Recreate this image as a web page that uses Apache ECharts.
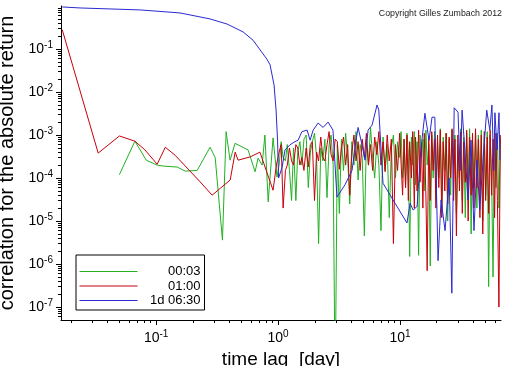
<!DOCTYPE html>
<html><head><meta charset="utf-8">
<script src="https://cdn.jsdelivr.net/npm/echarts@6/dist/echarts.min.js"></script>
<style>html,body{margin:0;padding:0;background:#fff}#c{width:512px;height:366px}</style>
</head><body><div id="c"></div>
<script>
const FONT = '"Liberation Sans", Arial, sans-serif';
const seriesNames = ['00:03', '01:00', '1d 06:30'];
const xMajorTicks = [0.1, 1, 10];
const yMajorTicks = [1e-7, 1e-6, 1e-5, 1e-4, 1e-3, 1e-2, 1e-1];
const xRange = [0.0166, 67.3];
const yRange = [5e-8, 1];

// short lags [day, value]
const greenHead = [[0.050,1.2e-4],[0.067,7.2e-4],[0.083,2.6e-4],[0.102,2e-4],[0.114,1.9e-4],[0.149,1.8e-4],[0.173,1.45e-4],[0.217,1.5e-4],[0.277,5.2e-4],[0.305,3e-4],[0.35,3.6e-6],[0.375,1.2e-3],[0.404,2.6e-4],[0.444,6.4e-4],[0.568,4.5e-4],[0.648,1.4e-4],[0.686,2.9e-4],[0.74,2e-4],[0.78,1e-3],[0.83,2.8e-5],[0.91,8.6e-4],[0.98,1.05e-4]];
const redHead = [[0.017,0.28],[0.0335,3.8e-4],[0.050,9.5e-4],[0.067,7.2e-4],[0.081,4.5e-4],[0.102,2.1e-4],[0.119,5.2e-4],[0.143,3.4e-4],[0.23,8.1e-5],[0.288,4e-5],[0.405,9e-5],[0.445,4e-4],[0.47,2.6e-4],[0.59,3.1e-4],[0.71,4e-4],[0.91,5.2e-5],[0.97,2e-4]];
const blueHead = [[0.017,0.95],[0.0238,0.9],[0.074,0.81],[0.157,0.69],[0.277,0.5],[0.382,0.38],[0.516,0.25],[0.624,0.16],[0.81,0.058],[0.86,0.043],[0.927,0.0146],[0.963,3.8e-3],[0.99,7.6e-4],[1.01,1e-4]];

// long lags (shared lag grid for 00:03 and 01:00)
const lagsNoise = [1.02,1.06,1.10,1.15,1.19,1.24,1.29,1.34,1.40,1.45,1.51,1.57,1.63,1.70,1.77,1.84,1.91,1.99,2.07,2.15,2.24,2.33,2.42,2.52,2.62,2.72,2.83,2.94,3.06,3.18,3.31,3.44,3.58,3.72,3.87,4.03,4.19,4.36,4.53,4.71,4.90,5.10,5.30,5.51,5.73,5.96,6.20,6.45,6.71,6.98,7.26,7.55,7.85,8.16,8.49,8.83,9.18,9.55,9.93,
10.2,10.5,10.8,11.1,11.4,11.7,12.0,12.4,12.7,13.1,13.4,13.8,14.2,14.6,15.0,15.4,15.8,16.3,16.7,17.2,17.7,18.2,18.7,19.2,19.7,20.3,20.8,21.4,22.0,22.6,23.3,23.9,24.6,25.3,26.0,26.7,27.5,28.2,29.0,29.8,30.7,31.5,32.4,33.3,34.3,35.2,36.2,37.2,38.3,39.3,40.4,41.6,42.7,43.9,45.2,46.4,47.7,49.1,50.4,51.9,53.3,54.8,56.4,57.9,59.6,61.2,62.9,64.7,66.5];
const greenNoise = [2e-4,7e-4,3e-4,2.5e-4,6e-4,1.5e-4,3e-5,5e-4,3e-5,4e-4,7e-4,2e-4,8e-4,1e-3,6e-5,4e-4,7e-4,1.1e-3,3e-4,3e-6,5e-4,2.5e-4,8e-4,3.5e-5,6e-4,1e-3,2e-4,1e-9,6e-4,1.5e-5,8e-4,1.5e-4,1.1e-3,3e-4,2.5e-5,7e-4,2e-4,1.2e-3,9e-5,6e-4,3e-4,4.5e-6,8e-4,2e-4,1.5e-3,3e-4,1e-4,7e-4,2e-4,6e-6,9e-4,1.5e-4,6e-4,1.2e-5,5e-4,1e-3,1e-4,7e-4,3e-4,
1.2e-3,1e-4,8e-4,6e-5,1.1e-3,4e-4,1.5e-6,9e-4,2e-4,1.2e-3,7e-5,7e-4,1.6e-6,1e-3,3e-4,8e-4,5e-5,1.3e-3,2e-4,6e-4,9e-7,1e-3,1e-4,1.2e-3,3e-5,7e-4,1e-4,1.4e-3,2e-5,9e-4,1.5e-4,1.1e-3,1e-5,8e-4,4e-5,1.3e-3,2e-4,1e-3,1.5e-5,6e-4,1e-4,1.4e-3,3e-5,9e-4,1.2e-5,1.1e-3,8e-5,1.4e-3,5e-6,8e-4,6e-5,1.2e-3,2e-5,1e-3,7e-5,1.3e-3,1e-5,9e-4,4e-5,1.2e-3,3e-7,1e-3,1e-4,5e-7,1.3e-3,6e-5,1.1e-3,2e-5,8e-4];
const redNoise = [4e-4,6e-4,2e-5,1.5e-4,2e-4,5e-4,2.5e-4,2e-4,6e-4,5e-4,2e-4,3e-4,1.5e-4,5e-4,1.8e-4,6e-4,7e-4,3e-5,4e-4,2.5e-4,9e-4,3e-4,2.5e-4,6e-4,1.2e-3,3.5e-4,2.5e-4,8e-4,7e-4,1.6e-4,5e-4,9e-4,2e-4,6e-4,4e-5,4e-4,1e-3,2.5e-4,7e-4,1.5e-4,8e-4,3e-4,1.1e-3,2e-4,6e-4,1.5e-4,9e-4,3.5e-4,1.2e-3,2e-4,7e-4,1.4e-4,1e-3,2.5e-4,8e-4,3e-6,6e-4,1.5e-4,1.1e-3,
1.2e-3,4e-5,8e-4,6e-5,1e-3,3e-5,7e-4,1e-4,1.2e-3,2e-5,9e-4,5e-5,1.3e-3,8e-5,6e-4,2e-5,1.1e-3,4e-5,7e-7,9e-4,3e-5,1.2e-3,1.5e-4,8e-4,2e-5,1e-3,6e-5,1.3e-3,1.2e-5,7e-4,5e-5,1.1e-3,2.5e-5,9e-4,1e-4,1.4e-3,3e-5,8e-4,4.5e-6,1e-3,5e-5,1.2e-3,1.5e-5,7e-4,8e-5,1.3e-3,1e-5,9e-4,4e-5,1.1e-3,2e-5,1.4e-3,6e-5,8e-4,1.2e-5,1e-3,5e-6,1.2e-3,3e-5,9e-4,1.5e-5,1.3e-3,4e-5,8e-4,1.2e-5,1.1e-3,3e-5,1e-7,1e-3];
// long lags for 1d 06:30 [day, value]
const blueNoise = [[1.08,1.8e-4],[1.14,4.5e-4],[1.25,5.9e-4],[1.35,6.8e-4],[1.46,7.6e-4],[1.57,1.2e-3],[1.73,1.3e-3],[1.83,7.6e-4],[1.94,1.3e-3],[2.13,1.9e-3],[2.34,1.5e-3],[2.57,2e-3],[2.82,1.3e-3],[3.04,3.6e-5],[3.54,7e-5],[4.04,1.5e-4],[4.36,7.6e-4],[4.53,1.5e-3],[4.88,5.9e-4],[5.17,2.6e-4],[5.47,1.3e-3],[5.9,1.7e-3],[6.48,5e-3],[6.7,3.8e-3],[7.25,7.6e-5],[11.4,9e-6],[12.1,2.6e-5],[12.8,1.8e-5],[13.8,2.2e-5],[14.8,4.5e-4],[16.0,3.2e-3],[17.3,7.6e-4],[18.3,2.6e-3],[19.3,2.6e-3],[20.5,1.2e-6],[21.7,3.1e-5],[23.4,6e-6],[25.3,1e-4],[26.6,2.1e-7],[27.8,4.3e-3],[29.9,3.4e-3],[31.1,1.5e-4],[32.3,3.8e-3],[34.0,4.5e-4],[36.1,3.1e-5],[38.2,7.6e-4],[40.4,6e-6],[42.8,2.6e-4],[45.0,1.8e-5],[48.6,4.5e-4],[51.4,3.8e-3],[54.5,1.3e-3],[56.7,5e-3],[58.8,1.5e-4],[60.0,3.3e-3],[62.5,4.5e-4],[64.8,3.3e-3],[66.0,2.6e-4]];

const colors = ['#22b022', '#c8000a', '#2a2ad0'];

function minorTicks(lo, hi) {
  const out = [];
  for (let e = Math.floor(Math.log10(lo)); e <= Math.ceil(Math.log10(hi)); e++) {
    for (let m = 2; m <= 9; m++) {
      const v = m * Math.pow(10, e);
      if (v > lo && v < hi) out.push(v);
    }
  }
  return out;
}
function powLabel(v) {
  const e = Math.round(Math.log10(v));
  return '{b|10}{s|' + e + '}';
}
const rich = {
  b: { fontFamily: FONT, fontSize: 14, color: '#000', lineHeight: 18 },
  s: { fontFamily: FONT, fontSize: 10, color: '#000', verticalAlign: 'top', lineHeight: 10 }
};

const greenData = greenHead.concat(lagsNoise.map((l, i) => [l, greenNoise[i]]));
const redData = redHead.concat(lagsNoise.map((l, i) => [l, redNoise[i]]));
const blueData = blueHead.concat(blueNoise);

const chart = echarts.init(document.getElementById('c'), null, { renderer: 'canvas' });
const lineSeries = (name, data, color) => ({
  name, type: 'line', data, xAxisIndex: 0, yAxisIndex: 0,
  symbol: 'none', showSymbol: false, smooth: false,
  lineStyle: { color, width: 1 }, itemStyle: { color },
  emphasis: { disabled: true }, clip: true
});
chart.setOption({
  animation: false,
  backgroundColor: '#fff',
  grid: { left: 61, right: 11, top: 6, bottom: 46, containLabel: false, outerBoundsMode: 'none' },
  legend: {
    data: seriesNames, orient: 'vertical', left: 76, top: 255,
    padding: [10, 4, 3, 3], itemGap: 1.5, itemWidth: 58, itemHeight: 14,
    borderColor: '#000', borderWidth: 1, borderRadius: 0, backgroundColor: '#fff',
    selectedMode: false,
    itemStyle: { opacity: 0 },
    lineStyle: { width: 1 },
    formatter: '{r|{name}}',
    textStyle: { fontFamily: FONT, fontSize: 13, color: '#000',
      rich: { r: { fontFamily: FONT, fontSize: 13, color: '#000', width: 58, align: 'right' } } }
  },
  graphic: [{
    type: 'text', right: 10, top: 9,
    style: { text: 'Copyright Gilles Zumbach 2012', font: '8.8px ' + FONT, fill: '#222' }
  }],
  xAxis: [{
    type: 'log', logBase: 10, min: xRange[0], max: xRange[1], position: 'bottom',
    name: 'time lag  [day]', nameLocation: 'middle', nameGap: 20,
    nameTextStyle: { fontFamily: FONT, fontSize: 19, color: '#000' },
    axisLine: { lineStyle: { color: '#000', width: 1 } },
    axisTick: { customValues: xMajorTicks, length: 5, lineStyle: { color: '#000' } },
    axisLabel: { customValues: xMajorTicks, formatter: powLabel, rich, margin: 9 },
    splitLine: { show: false }, minorTick: { show: false }
  }, {
    type: 'log', logBase: 10, min: xRange[0], max: xRange[1], position: 'bottom',
    axisLine: { show: false },
    axisTick: { customValues: minorTicks(xRange[0], xRange[1]), length: 3, lineStyle: { color: '#000' } },
    axisLabel: { show: false }, splitLine: { show: false }
  }],
  yAxis: [{
    type: 'log', logBase: 10, min: yRange[0], max: yRange[1], position: 'left',
    name: 'correlation for the absolute return', nameLocation: 'middle', nameGap: 36,
    nameTextStyle: { fontFamily: FONT, fontSize: 20, color: '#000' },
    axisLine: { show: true, lineStyle: { color: '#000', width: 1 } },
    axisTick: { show: true, customValues: yMajorTicks, length: 5, lineStyle: { color: '#000' } },
    axisLabel: { customValues: yMajorTicks, formatter: powLabel, rich, margin: 8 },
    splitLine: { show: false }, minorTick: { show: false }
  }, {
    type: 'log', logBase: 10, min: yRange[0], max: yRange[1], position: 'left',
    axisLine: { show: false },
    axisTick: { show: true, customValues: minorTicks(yRange[0], yRange[1]), length: 3, lineStyle: { color: '#000' } },
    axisLabel: { show: false }, splitLine: { show: false }
  }],
  series: [
    lineSeries(seriesNames[0], greenData, colors[0]),
    lineSeries(seriesNames[1], redData, colors[1]),
    lineSeries(seriesNames[2], blueData, colors[2])
  ]
});
</script></body></html>
